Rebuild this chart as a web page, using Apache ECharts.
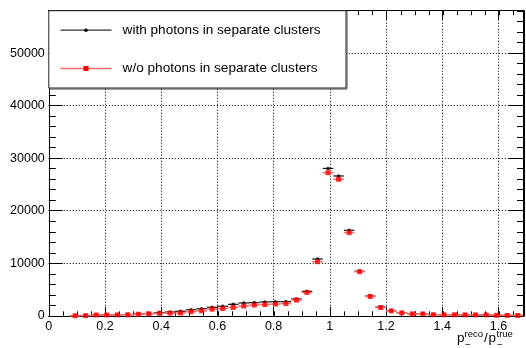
<!DOCTYPE html>
<html><head><meta charset="utf-8">
<script src="https://cdn.jsdelivr.net/npm/echarts@6/dist/echarts.min.js"></script>
<style>html,body{margin:0;padding:0;background:#fff}#c{width:526px;height:348px}</style>
</head><body><div id="c"></div><script>
// bin centers (bin width 0.0375)
const binCenters = [0.09375,0.13125,0.16875,0.20625,0.24375,0.28125,0.31875,0.35625,0.39375,0.43125,
  0.46875,0.50625,0.54375,0.58125,0.61875,0.65625,0.69375,0.73125,0.76875,0.80625,
  0.84375,0.88125,0.91875,0.95625,0.99375,1.03125,1.06875,1.10625,1.14375,1.18125,
  1.21875,1.25625,1.29375,1.33125,1.36875,1.40625,1.44375,1.48125,1.51875,1.55625,
  1.59375,1.63125,1.66875];
const binHalfWidth = 0.01875;
const withPhotons = [20,40,160,180,210,250,350,450,600,720,
  860,1150,1350,1620,1810,2190,2440,2500,2630,2680,
  2700,3200,4650,10810,28050,26620,16280,8480,3750,1650,
  980,590,400,410,230,220,210,200,190,180,
  100,80,70];
const withoutPhotons = [20,40,150,160,180,200,300,370,470,500,
  520,780,950,1250,1380,1600,1850,2040,2140,2230,
  2330,2990,4430,10300,27250,25990,15850,8400,3680,1580,
  940,560,370,360,210,200,200,190,180,170,
  90,70,60];
const seriesNames = ['with photons in separate clusters','w/o photons in separate clusters'];
const xMin = 0, xMax = 1.6875, xMajor = 0.2, xMinor = 0.05;
const yMin = 0, yMax = 58080, yMajor = 10000, yMinor = 2000;

const FONT = 'Liberation Sans, Arial, sans-serif';
const G = {left: 48.8, top: 10.7, width: 475.2, height: 305.1};

function barRender(color, width) {
  return function (params, api) {
    const x = api.value(0), y = api.value(1);
    const p1 = api.coord([x - binHalfWidth, y]);
    const p2 = api.coord([x + binHalfWidth, y]);
    return {type: 'line', shape: {x1: p1[0], y1: p1[1], x2: p2[0], y2: p2[1]},
      style: {stroke: color, lineWidth: width}};
  };
}
const blackData = binCenters.map((c, i) => [c, withPhotons[i]]);
const redData = binCenters.map((c, i) => [c, withoutPhotons[i]]);

const dotted = {show: true, lineStyle: {color: '#000', type: [1, 2], width: 1}};
function xAx(grid, pos, interval, tickLen, labels, split) {
  return {type: 'value', gridIndex: grid, position: pos, min: xMin, max: xMax, interval: interval,
    axisLine: {show: true, onZero: false, lineStyle: {color: '#000', width: 1}},
    axisTick: {show: true, inside: true, length: tickLen, lineStyle: {color: '#000', width: 1}},
    axisLabel: {show: labels, inside: false, margin: 4, fontSize: 12.5, color: '#000', fontFamily: FONT,
      formatter: v => Math.abs(v / xMajor - Math.round(v / xMajor)) < 1e-6 ? String(+v.toFixed(1)) : ''},
    splitLine: split ? dotted : {show: false}};
}
function yAx(grid, pos, interval, tickLen, labels, split) {
  return {type: 'value', gridIndex: grid, position: pos, min: yMin, max: yMax, interval: interval,
    axisLine: {show: true, onZero: false, lineStyle: {color: '#000', width: 1}},
    axisTick: {show: true, inside: true, length: tickLen, lineStyle: {color: '#000', width: 1}},
    axisLabel: {show: labels, inside: false, margin: 4, fontSize: 12.5, color: '#000', fontFamily: FONT,
      formatter: v => (v % yMajor === 0 ? String(v) : '')},
    splitLine: split ? dotted : {show: false}};
}

const chart = echarts.init(document.getElementById('c'), null, {renderer: 'canvas'});
chart.setOption({
  animation: false,
  backgroundColor: '#fff',
  grid: [Object.assign({}, G), Object.assign({}, G)],
  xAxis: [xAx(0, 'bottom', xMajor, 9, true, true), xAx(0, 'top', xMajor, 9, false, false),
          xAx(1, 'bottom', xMinor, 4.5, false, false), xAx(1, 'top', xMinor, 4.5, false, false)],
  yAxis: [yAx(0, 'left', yMajor, 14, true, true), yAx(0, 'right', yMajor, 14, false, false),
          yAx(1, 'left', yMinor, 7, false, false), yAx(1, 'right', yMinor, 7, false, false)],
  series: [
    {name: seriesNames[0], type: 'custom', xAxisIndex: 0, yAxisIndex: 0, renderItem: barRender('#111', 1.2), data: blackData, z: 2},
    {name: seriesNames[0], type: 'scatter', xAxisIndex: 0, yAxisIndex: 0, symbol: 'circle', symbolSize: 3.6,
      itemStyle: {color: '#000'}, data: blackData, z: 3},
    {name: seriesNames[1], type: 'custom', xAxisIndex: 0, yAxisIndex: 0, renderItem: barRender('#ff6a6a', 1.6), data: redData, z: 4},
    {name: seriesNames[1], type: 'scatter', xAxisIndex: 0, yAxisIndex: 0, symbol: 'rect', symbolSize: 5,
      itemStyle: {color: '#ff0000'}, data: redData, z: 5}
  ],
  graphic: [
    {type: 'rect', z: 100, shape: {x: 48.8, y: 10.7, width: 297.2, height: 77.3},
      style: {fill: '#fff', stroke: '#222', lineWidth: 1}},
    {type: 'line', z: 101, shape: {x1: 347, y1: 11, x2: 347, y2: 89}, style: {stroke: '#444', lineWidth: 1}},
    {type: 'line', z: 101, shape: {x1: 49, y1: 89, x2: 347, y2: 89}, style: {stroke: '#444', lineWidth: 1}},
    {type: 'line', z: 101, shape: {x1: 60.5, y1: 30.2, x2: 111.5, y2: 30.2}, style: {stroke: '#333', lineWidth: 1.3}},
    {type: 'circle', z: 102, shape: {cx: 86, cy: 30.2, r: 1.8}, style: {fill: '#000'}},
    {type: 'line', z: 101, shape: {x1: 60.5, y1: 68.5, x2: 111.5, y2: 68.5}, style: {stroke: '#ff6a6a', lineWidth: 1.6}},
    {type: 'rect', z: 102, shape: {x: 83.5, y: 66, width: 5, height: 5}, style: {fill: '#ff0000'}},
    {type: 'text', z: 102, x: 122.6, y: 30.2, style: {text: seriesNames[0], font: '13.6px ' + FONT, fill: '#000', verticalAlign: 'middle'}},
    {type: 'text', z: 102, x: 122.6, y: 68.5, style: {text: seriesNames[1], font: '13.6px ' + FONT, fill: '#000', verticalAlign: 'middle'}},
    // axis title p_-^{reco}/p_-^{true}
    {type: 'text', z: 102, x: 457, y: 345, style: {text: 'p', font: '13.5px ' + FONT, fill: '#000', verticalAlign: 'bottom'}},
    {type: 'text', z: 102, x: 464.5, y: 334, style: {text: 'reco', font: '9.5px ' + FONT, fill: '#000', verticalAlign: 'middle'}},
    {type: 'text', z: 102, x: 465, y: 345, style: {text: '\u2212', font: '9.5px ' + FONT, fill: '#000', verticalAlign: 'middle'}},
    {type: 'text', z: 102, x: 484, y: 345, style: {text: '/', font: '13.5px ' + FONT, fill: '#000', verticalAlign: 'bottom'}},
    {type: 'text', z: 102, x: 488.5, y: 345, style: {text: 'p', font: '13.5px ' + FONT, fill: '#000', verticalAlign: 'bottom'}},
    {type: 'text', z: 102, x: 496.5, y: 334, style: {text: 'true', font: '9.5px ' + FONT, fill: '#000', verticalAlign: 'middle'}},
    {type: 'text', z: 102, x: 497, y: 345, style: {text: '\u2212', font: '9.5px ' + FONT, fill: '#000', verticalAlign: 'middle'}}
  ]
});
</script></body></html>
